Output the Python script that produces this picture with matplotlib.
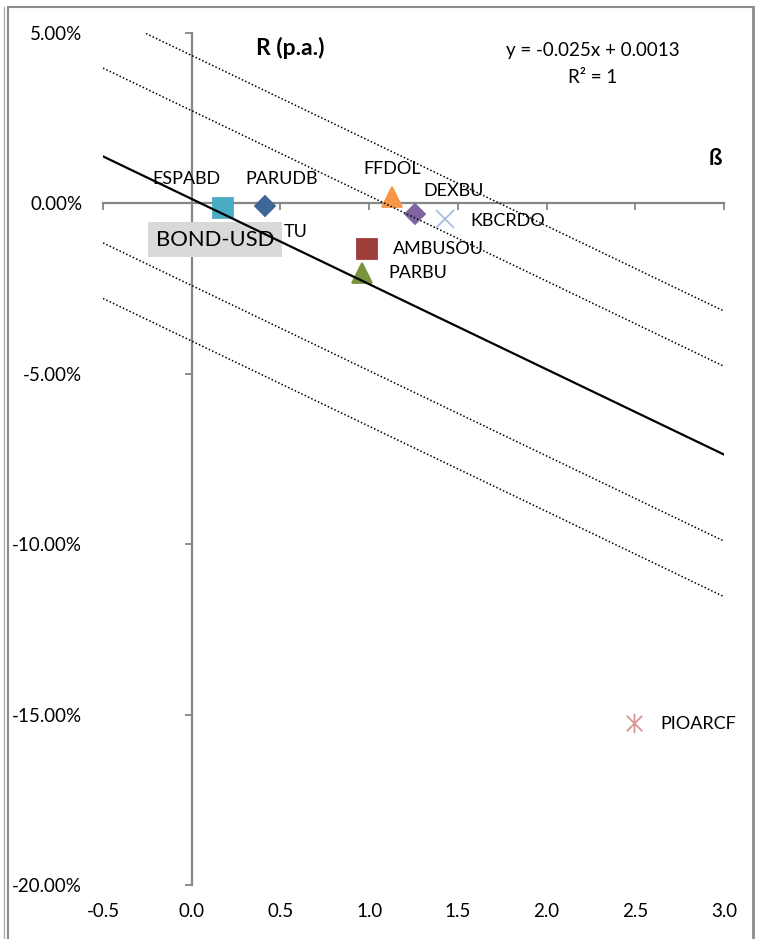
import numpy as np
import matplotlib.pyplot as plt
from matplotlib.lines import Line2D
from matplotlib.path import Path
from matplotlib.ticker import PercentFormatter, FormatStrFormatter

plt.rcParams['font.family'] = ['Lato', 'DejaVu Sans']
plt.rcParams['axes.unicode_minus'] = False

## fund data: beta vs annual return
names = ['ESPABD', 'PARUDB', 'FFDOL', 'DEXBU', 'KBCRDO', 'AMBUSOU', 'PARBU', 'PIOARCF']
beta = [0.175, 0.411, 1.129, 1.259, 1.428, 0.990, 0.958, 2.493]
ret = [-0.0013, -0.0009, 0.0018, -0.0030, -0.0045, -0.0135, -0.0205, -0.1526]

## regression line and parallel bands
slope = -0.025
intercept = 0.0013
band_intercepts = [0.0434, 0.0272, -0.0241, -0.0404]

xticks = [-0.5, 0.0, 0.5, 1.0, 1.5, 2.0, 2.5, 3.0]
yticks = [0.05, 0.0, -0.05, -0.10, -0.15, -0.20]

# styles for each fund marker / label
star = Path([(-1, -1), (1, 1), (-1, 1), (1, -1), (0, -1.25), (0, 1.25)],
            [Path.MOVETO, Path.LINETO, Path.MOVETO, Path.LINETO, Path.MOVETO, Path.LINETO])
mk = ['s', 'D', '^', 'D', 'x', 's', '^', star]
ms = [14.5, 10, 14.5, 10, 13.5, 14.5, 14.5, 14]
cols = ['#4BACC6', '#3E6697', '#F79646', '#8064A2', '#A7BFDE', '#9C3D3A', '#77933C', '#D99694']
lab_off = [(-36, 29), (17, 27), (0, 28), (38, 23), (25, -2), (26, 0), (27, 0), (26, -1)]
lab_ha = ['center', 'center', 'center', 'center', 'left', 'left', 'left', 'left']

W, H = 769, 939
fig = plt.figure(figsize=(W/100, H/100), dpi=100)
rect = [103/W, 54/H, 621/W, 852/H]

# axes only for the tick labels (Excel "low" label position)
lab = fig.add_axes(rect, frameon=False)
lab.set_xlim(-0.5, 3.0)
lab.set_ylim(-0.20, 0.05)
lab.set_xticks(xticks)
lab.set_yticks(yticks)
lab.xaxis.set_major_formatter(FormatStrFormatter('%.1f'))
lab.yaxis.set_major_formatter(PercentFormatter(xmax=1, decimals=2))
lab.tick_params(length=0, labelsize=13.5, colors='black')
lab.tick_params(axis='y', pad=15)
lab.tick_params(axis='x', pad=13)

ax = fig.add_axes(rect)
ax.patch.set_alpha(0)
ax.set_xlim(-0.5, 3.0)
ax.set_ylim(-0.20, 0.05)
for s in ['top', 'right']:
    ax.spines[s].set_visible(False)
ax.spines['left'].set_position(('data', 0))
ax.spines['bottom'].set_position(('data', 0))
for s in ['left', 'bottom']:
    ax.spines[s].set_color('#868686')
    ax.spines[s].set_linewidth(1.6)
ax.set_xticks(xticks)
ax.set_yticks(yticks)
ax.tick_params(direction='out', length=5, width=1.3, color='#868686',
               labelleft=False, labelbottom=False)

# trend line + dotted bands
xx = np.array(ax.get_xlim())
ax.plot(xx, slope*xx + intercept, color='black', lw=1.6, zorder=5)
for b in band_intercepts:
    ax.plot(xx, slope*xx + b, color='black', lw=1.1, ls=(0, (1, 1.4)), zorder=5)

# fund markers and labels
for i in range(len(names)):
    ax.plot(beta[i], ret[i], marker=mk[i], ms=ms[i], color=cols[i], mec=cols[i],
            mew=1.3, ls='none', zorder=4)
    ax.annotate(names[i], (beta[i], ret[i]), xytext=lab_off[i], textcoords='offset pixels',
                ha=lab_ha[i], va='center', fontsize=13, zorder=6)

# partly hidden label and the gray BOND-USD box over it
ax.text(0.516, -0.0084, 'TU', fontsize=13, ha='left', va='center', zorder=2)
ax.text(0.131, -0.0106, 'BOND-USD', fontsize=15.8, ha='center', va='center', zorder=3,
        bbox=dict(boxstyle='square,pad=0.36', fc='#D9D9D9', ec='none'))

ax.text(0.301, 0.982, 'R (p.a.)', transform=ax.transAxes, fontsize=16.5,
        fontweight='bold', ha='center', va='center')
ax.text(0.9855, 0.853, 'ß', transform=ax.transAxes, fontsize=16,
        fontweight='bold', ha='center', va='center')
ax.text(0.788, 0.980, 'y = -0.025x + 0.0013', transform=ax.transAxes, fontsize=13.5,
        ha='center', va='center')
ax.text(0.788, 0.948, 'R² = 1', transform=ax.transAxes, fontsize=13.5,
        ha='center', va='center')

# chart frame
fc = '#8C8C8C'
fig.add_artist(Line2D([8/W, 8/W], [0, 1 - 7/H], color=fc, lw=1.5))
fig.add_artist(Line2D([8/W, 753/W], [1 - 7/H, 1 - 7/H], color=fc, lw=1.5))
fig.add_artist(Line2D([753/W, 753/W], [0, 1 - 7/H], color=fc, lw=2))
fig.add_artist(Line2D([3.5/W, 3.5/W], [0, 1 - 7/H], color='#B0B0B0', lw=1))

plt.savefig('out.png', dpi=100, facecolor='white')
